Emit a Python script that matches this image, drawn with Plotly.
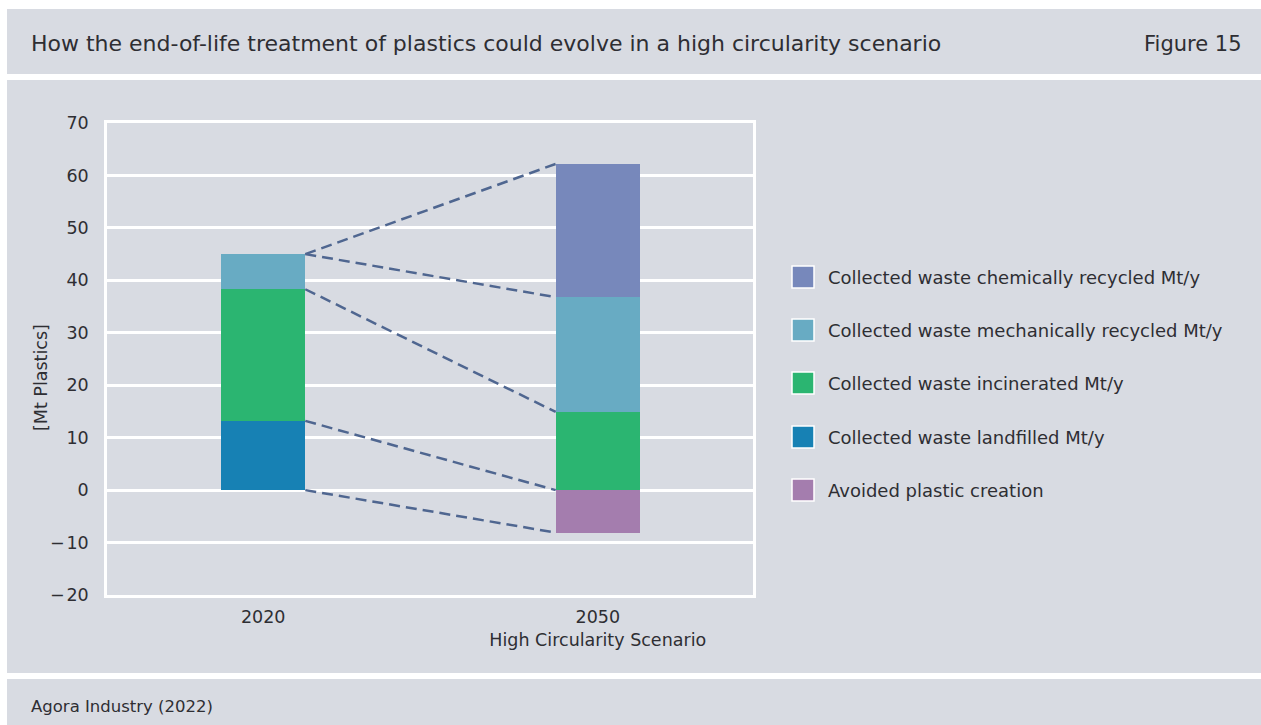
import plotly.graph_objects as go

# --- data -------------------------------------------------------------
categories = [0, 1]
tick_text = ["2020", "2050<br>High Circularity Scenario"]

landfilled = [13.2, 0.0]
incinerated = [25.1, 14.9]
mechanical = [6.7, 21.9]
chemical = [0.0, 25.4]
avoided = [0.0, -8.1]

series_names = [
    "Collected waste chemically recycled Mt/y",
    "Collected waste mechanically recycled Mt/y",
    "Collected waste incinerated Mt/y",
    "Collected waste landfilled Mt/y",
    "Avoided plastic creation",
]
series_values = [chemical, mechanical, incinerated, landfilled, avoided]
series_colors = ["#7788bb", "#68abc3", "#2bb571", "#1781b4", "#a47dae"]

y_ticks = [-20, -10, 0, 10, 20, 30, 40, 50, 60, 70]
y_tick_text = ["\u2212\u200a20", "\u2212\u200a10", "0", "10", "20", "30", "40", "50", "60", "70"]

# --- styling ----------------------------------------------------------
W, H = 1261, 725
BG = "#d8dbe2"
TEXT = "#2e2e33"
LINK = "#4f6690"
FONT = "DejaVu Sans"
BAR_W = 0.2515

L, R, T, B = 107, W - 753, 123, H - 595
PW, PH = W - L - R, H - T - B


def px(x):
    return (x - L) / PW


def py(y):
    return (H - B - y) / PH


fig = go.Figure()

# stacked bars, bottom to top
stack_order = [landfilled, incinerated, mechanical, chemical, avoided]
for vals in stack_order:
    idx = series_values.index(vals)
    fig.add_trace(go.Bar(
        x=categories, y=vals, width=BAR_W,
        marker=dict(color=series_colors[idx], line=dict(width=0)),
        name=series_names[idx], showlegend=False, hoverinfo="skip",
    ))

# dashed links between matching stack boundaries of the two bars
def boundaries(i):
    levels = [avoided[i]]
    run = 0.0
    for vals in (landfilled, incinerated, mechanical, chemical):
        run += vals[i]
        levels.append(run)
    return levels

left_levels = boundaries(0)
right_levels = boundaries(1)
x0 = categories[0] + BAR_W / 2
x1 = categories[1] - BAR_W / 2
for a, b in zip(left_levels, right_levels):
    fig.add_trace(go.Scatter(
        x=[x0, x1], y=[a, b], mode="lines",
        line=dict(color=LINK, width=2.5, dash="11px,6px"),
        showlegend=False, hoverinfo="skip",
    ))

# page bands
shapes = []
for (xa, ya, xb, yb) in [(0, 0, W, 9), (0, 0, 7, H), (0, 74, W, 80), (0, 673, W, 679)]:
    shapes.append(dict(type="rect", xref="paper", yref="paper",
                       x0=px(xa), x1=px(xb), y0=py(ya), y1=py(yb),
                       fillcolor="white", line=dict(width=0), layer="below"))

annotations = [
    dict(text="How the end-of-life treatment of plastics could evolve in a high circularity scenario",
         x=px(29), y=py(44), xanchor="left", yanchor="middle",
         font=dict(size=22, color=TEXT, family=FONT)),
    dict(text="Figure 15", x=px(1244), y=py(44), xanchor="right", yanchor="middle",
         font=dict(size=21, color=TEXT, family=FONT)),
    dict(text="Agora Industry (2022)", x=px(29), y=py(706), xanchor="left", yanchor="middle",
         font=dict(size=16.5, color=TEXT, family=FONT)),
    dict(text="[Mt Plastics]", x=px(41), y=py(378), xanchor="center", yanchor="middle",
         textangle=-90, font=dict(size=17.5, color=TEXT, family=FONT)),
]

# legend drawn as swatches with labels
row_y = [277, 330, 383, 437, 490]
for name, color, yc in zip(series_names, series_colors, row_y):
    shapes.append(dict(type="rect", xref="paper", yref="paper",
                       x0=px(792), x1=px(814), y0=py(yc - 11), y1=py(yc + 11),
                       fillcolor=color, line=dict(color="white", width=1.5), layer="above"))
    annotations.append(dict(text=name, x=px(826), y=py(yc), xanchor="left", yanchor="middle",
                            font=dict(size=18, color=TEXT, family=FONT)))

for a in annotations:
    a.update(xref="paper", yref="paper", showarrow=False)

fig.update_layout(
    width=W, height=H,
    margin=dict(l=L, r=R, t=T, b=B, pad=0),
    paper_bgcolor=BG, plot_bgcolor=BG,
    barmode="relative", bargap=0,
    font=dict(family=FONT, color=TEXT, size=17.5),
    shapes=shapes, annotations=annotations,
    showlegend=False,
    xaxis=dict(
        range=[-0.467, 1.464], tickvals=categories, ticktext=tick_text,
        showgrid=False, zeroline=False, showline=True, mirror=True,
        linecolor="white", linewidth=2.5, ticks="", ticklabelstandoff=4,
        tickfont=dict(size=17.5, color=TEXT, family=FONT), fixedrange=True,
    ),
    yaxis=dict(
        range=[-20, 70], tickvals=y_ticks, ticktext=y_tick_text,
        showgrid=True, gridcolor="white", gridwidth=2.5,
        zeroline=True, zerolinecolor="white", zerolinewidth=2.5,
        showline=True, mirror=True, linecolor="white", linewidth=2.5,
        ticks="", ticklabelstandoff=12,
        tickfont=dict(size=17.5, color=TEXT, family=FONT), fixedrange=True,
    ),
)

fig.write_html("out.html")
